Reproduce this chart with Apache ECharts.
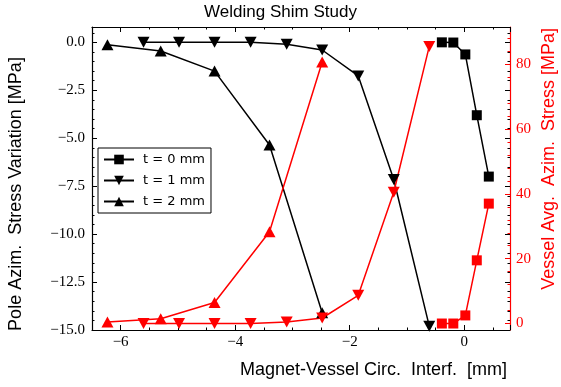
<!DOCTYPE html>
<html>
<head>
<meta charset="utf-8">
<title>Welding Shim Study</title>
<script src="https://cdn.jsdelivr.net/npm/echarts@6/dist/echarts.min.js"></script>
<style>
  html, body { margin: 0; padding: 0; background: #fff; }
  #main { width: 561px; height: 387px; }
</style>
</head>
<body>
<div id="main"></div>
<script>
// t = 0 mm
const interf0 = [-0.39, -0.19, 0.02, 0.22, 0.43]
const pole0 = [0.0, -0.01, -0.63, -3.8, -7.0]
const vessel0 = [0.0, 0.0, 2.5, 19.5, 37.0]
// t = 1 mm
const interf1 = [-5.6, -4.98, -4.36, -3.73, -3.1, -2.48, -1.85, -1.23, -0.61]
const pole1 = [0.0, 0.0, 0.0, 0.0, -0.1, -0.4, -1.75, -7.15, -14.8]
const vessel1 = [0.0, 0.0, 0.0, 0.0, 0.5, 1.7, 8.7, 40.5, 85.5]
// t = 2 mm
const interf2 = [-6.23, -5.3, -4.36, -3.4, -2.48]
const pole2 = [-0.12, -0.45, -1.5, -5.35, -14.1]
const vessel2 = [0.5, 1.5, 6.5, 28.3, 80.7]

const names = ['t = 0 mm', 't = 1 mm', 't = 2 mm']

const RED = '#ff0000'
const serif = "'Liberation Serif', 'DejaVu Serif', serif"
const sans = "'Liberation Sans', 'DejaVu Sans', sans-serif"

function pairs(xs, ys) {
  return xs.map((x, i) => [x, ys[i]])
}
function minus(v) {
  return v < 0 ? '\u2212' + Math.abs(v) : String(v)
}

let myChart = echarts.init(document.getElementById('main'))

// ticks point inward like matplotlib
function ticks(color, split) {
  return {
    axisTick: { show: true, inside: true, length: 5, lineStyle: { color: color, width: 1 } },
    minorTick: { show: true, splitNumber: split, length: 2.5, lineStyle: { color: color, width: 1 } },
    splitLine: { show: false },
    minorSplitLine: { show: false }
  }
}

function lineSeries(name, xs, ys, axis, color, symbol, size, rotate) {
  return {
    name: name,
    type: 'line',
    yAxisIndex: axis,
    data: pairs(xs, ys),
    symbol: symbol,
    symbolSize: size,
    symbolRotate: rotate,
    showAllSymbol: true,
    lineStyle: { color: color, width: 1.5 },
    itemStyle: { color: color, borderWidth: 0 },
    emphasis: { disabled: true }
  }
}

const TRI = [12, 11]

let option = {
  animation: false,
  title: {
    text: 'Welding Shim Study',
    left: 'center',
    top: 4,
    padding: 0,
    textStyle: { fontFamily: sans, fontSize: 17, fontWeight: 'normal', color: '#000' }
  },
  grid: { left: 92, right: 51, top: 27, bottom: 57, outerBoundsMode: 'none' },
  legend: {
    data: names,
    orient: 'vertical',
    left: 98,
    top: 148,
    padding: [5, 6, 5, 5],
    itemWidth: 30,
    itemHeight: 12,
    itemGap: 8,
    backgroundColor: '#fff',
    borderColor: '#000',
    borderWidth: 1,
    borderRadius: 0,
    selectedMode: false,
    textStyle: { fontFamily: "'DejaVu Sans', sans-serif", fontSize: 13, color: '#000', padding: [0, 0, 0, 4] }
  },
  xAxis: [
    Object.assign({
      type: 'value',
      position: 'bottom',
      min: -6.5,
      max: 0.8,
      splitNumber: 4,
      axisLine: { onZero: false, lineStyle: { color: '#000', width: 1.2 } },
      axisLabel: {
        margin: 5, showMinLabel: false, showMaxLabel: false,
        fontFamily: serif, fontSize: 15, color: '#000',
        formatter: minus
      }
    }, ticks('#000', 4)),
    Object.assign({
      type: 'value',
      position: 'top',
      min: -6.5,
      max: 0.8,
      splitNumber: 4,
      axisLine: { onZero: false, lineStyle: { color: '#000', width: 1.2 } },
      axisLabel: { show: false }
    }, ticks('#000', 4))
  ],
  yAxis: [
    Object.assign({
      type: 'value',
      position: 'left',
      min: -15,
      max: 0.8,
      interval: 2.5,
      axisLine: { show: true, onZero: false, lineStyle: { color: '#000', width: 1.2 } },
      axisLabel: {
        margin: 7, showMaxLabel: false,
        fontFamily: serif, fontSize: 15, color: '#000',
        formatter: v => (v < 0 ? '\u2212' : '') + Math.abs(v).toFixed(1)
      }
    }, ticks('#000', 5)),
    Object.assign({
      type: 'value',
      position: 'right',
      min: -2,
      max: 91.5,
      splitNumber: 5,
      axisLine: { show: true, onZero: false, lineStyle: { color: RED, width: 1.2 } },
      axisLabel: {
        margin: 6, showMinLabel: false, showMaxLabel: false,
        fontFamily: serif, fontSize: 15, color: RED
      }
    }, ticks(RED, 5)),
    // left axis ticks repeated on the right spine
    Object.assign({
      type: 'value',
      position: 'right',
      min: -15,
      max: 0.8,
      interval: 2.5,
      axisLine: { show: false, onZero: false },
      axisLabel: { show: false }
    }, ticks('#000', 5))
  ],
  graphic: [
    {
      type: 'text', x: 16, y: 194, rotation: Math.PI / 2,
      style: { text: 'Pole Azim.  Stress Variation [MPa]', fontFamily: sans, fontSize: 18, fill: '#000', align: 'center', verticalAlign: 'middle' }
    },
    {
      type: 'text', x: 549, y: 28, rotation: Math.PI / 2,
      style: { text: 'Vessel Avg.  Azim.  Stress [MPa]', fontFamily: sans, fontSize: 18, fill: RED, align: 'right', verticalAlign: 'middle' }
    },
    {
      type: 'text', x: 507, y: 370,
      style: { text: 'Magnet-Vessel Circ.  Interf.  [mm]', fontFamily: sans, fontSize: 18, fill: '#000', align: 'right', verticalAlign: 'middle' }
    }
  ],
  series: [
    lineSeries(names[0], interf0, pole0, 0, '#000', 'rect', 10, 0),
    lineSeries(names[1], interf1, pole1, 0, '#000', 'triangle', TRI, 180),
    lineSeries(names[2], interf2, pole2, 0, '#000', 'triangle', TRI, 0),
    lineSeries('vessel t = 0 mm', interf0, vessel0, 1, RED, 'rect', 10, 0),
    lineSeries('vessel t = 1 mm', interf1, vessel1, 1, RED, 'triangle', TRI, 180),
    lineSeries('vessel t = 2 mm', interf2, vessel2, 1, RED, 'triangle', TRI, 0)
  ]
}

myChart.setOption(option)
</script>
</body>
</html>
